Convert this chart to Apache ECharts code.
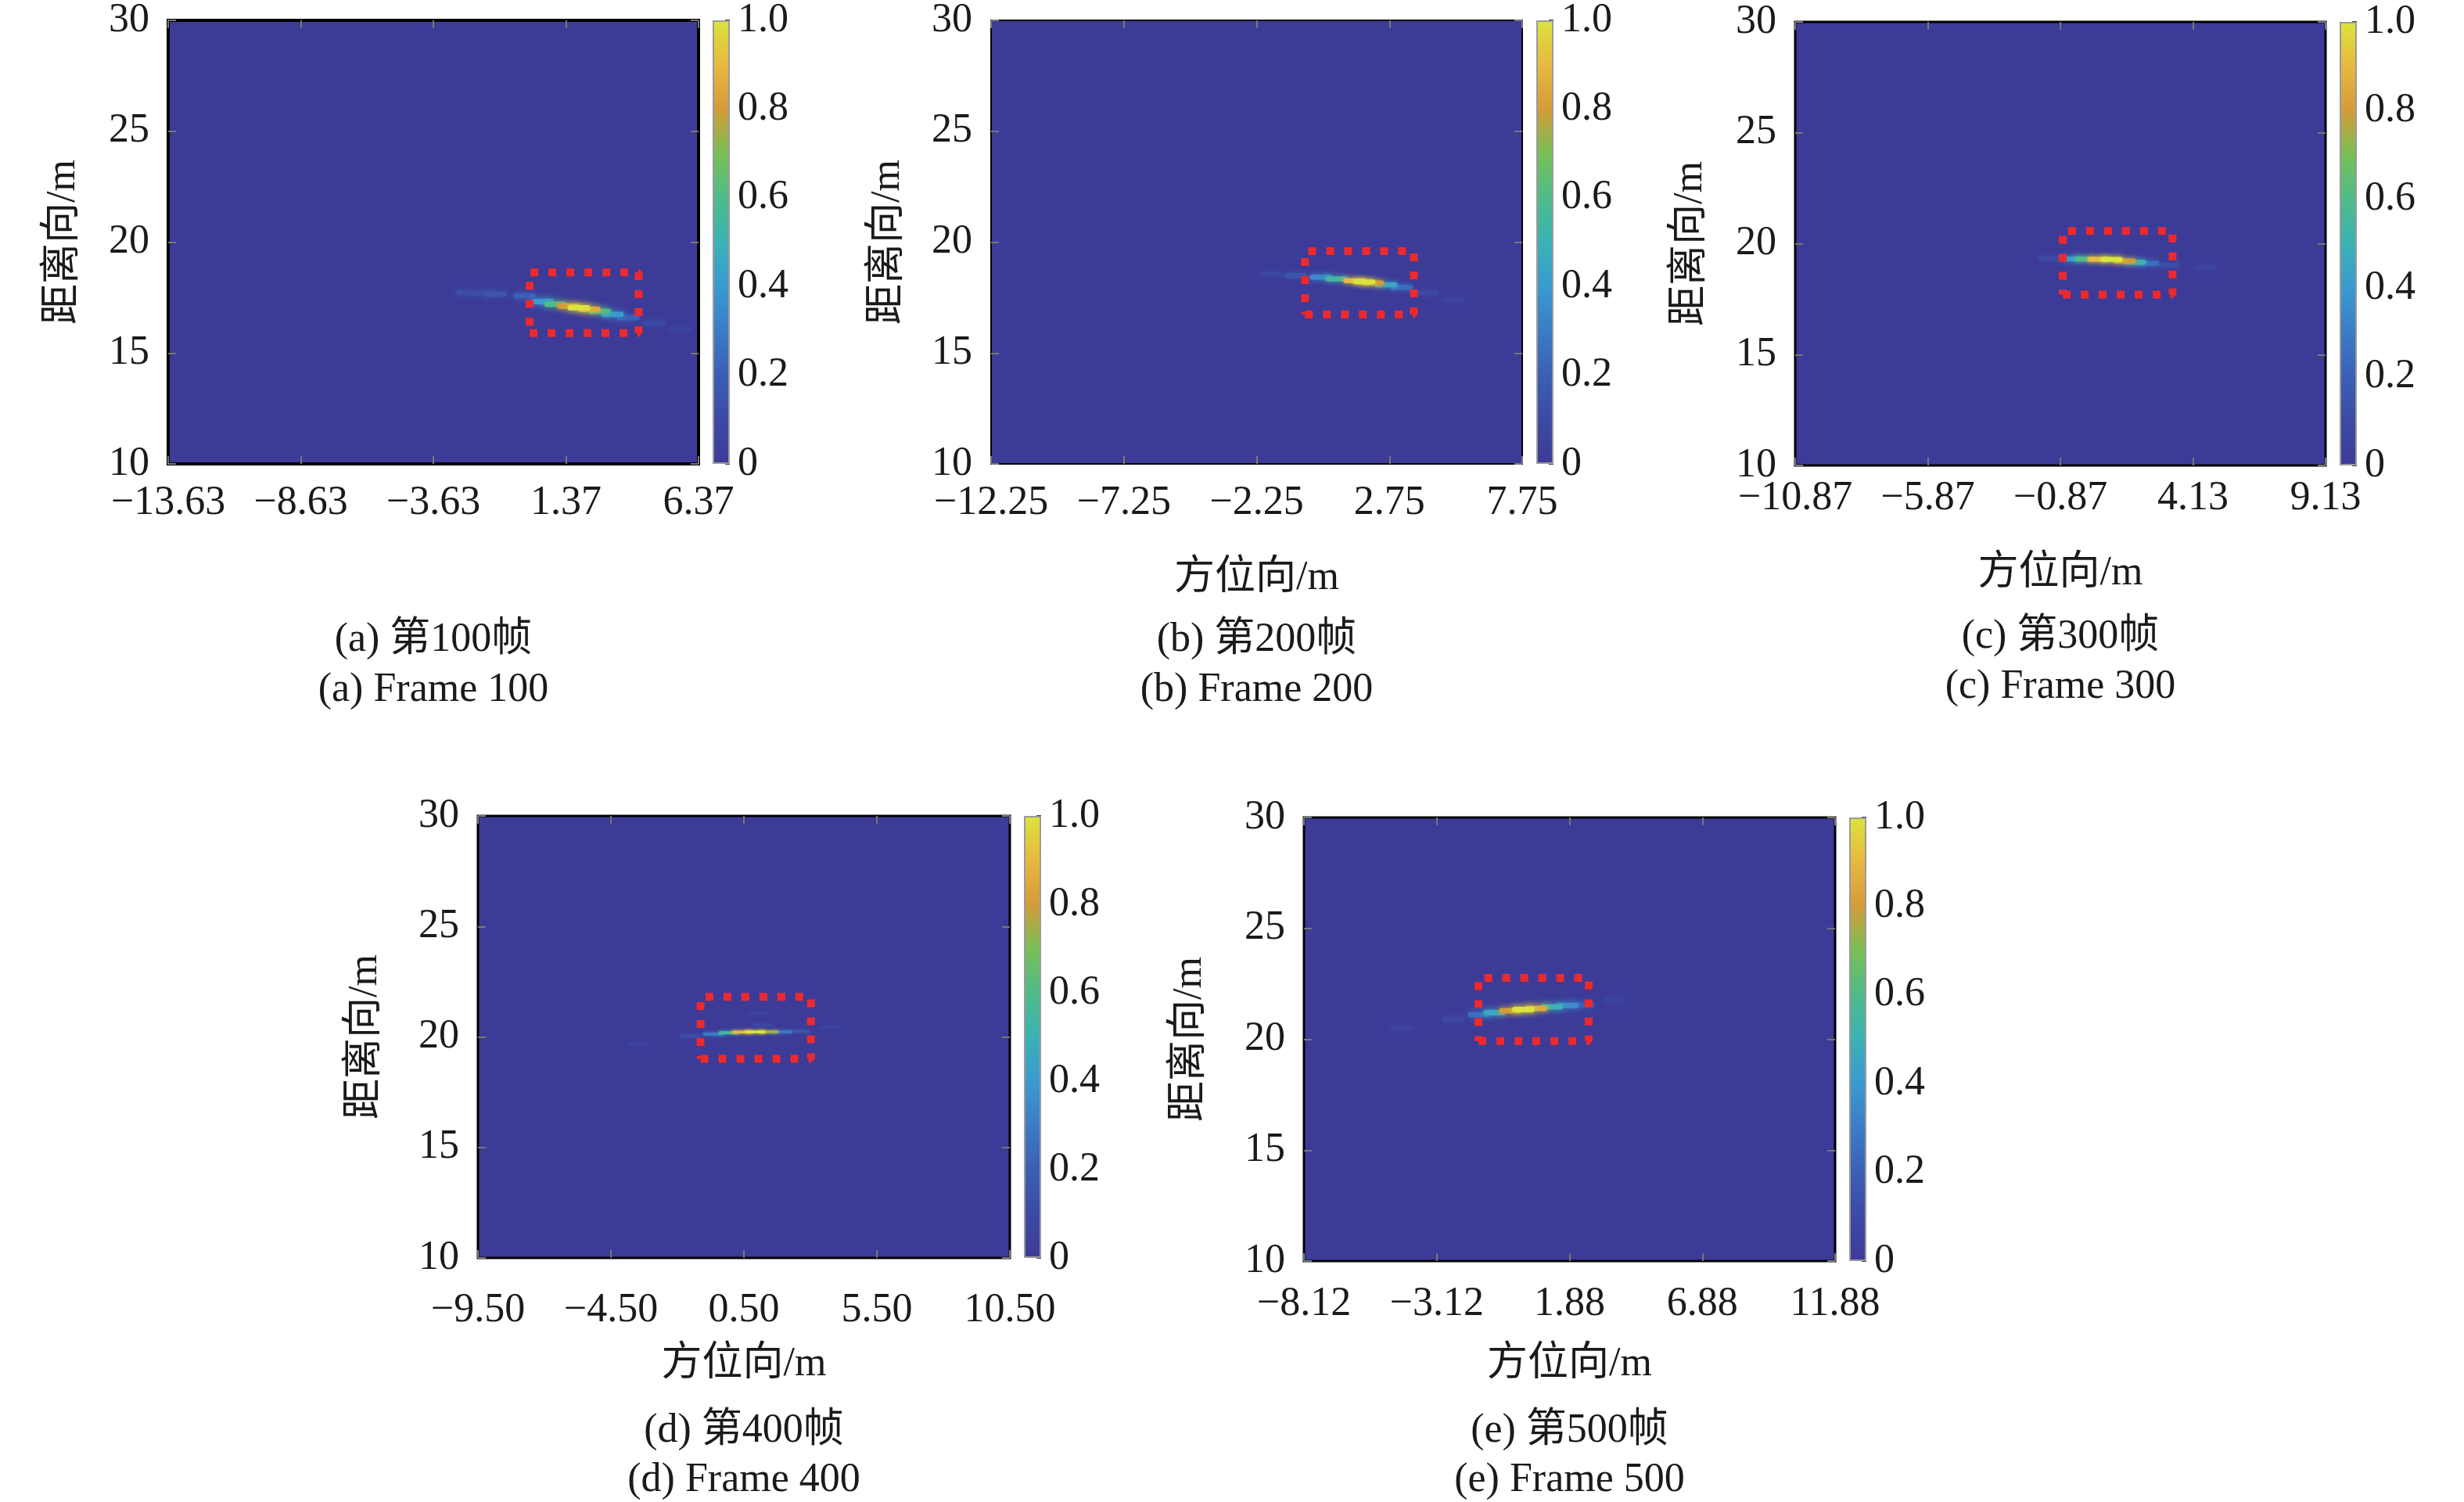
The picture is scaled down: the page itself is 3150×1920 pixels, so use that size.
<!DOCTYPE html>
<html>
<head>
<meta charset="utf-8">
<title>帧序列成像</title>
<script src="https://cdn.jsdelivr.net/npm/echarts@6/dist/echarts.min.js"></script>
<style>
  html, body { margin: 0; padding: 0; background: #fff; }
  #main { width: 3150px; height: 1920px; }
</style>
</head>
<body>
<div id="main"></div>
<script>
// 数据：各帧的方位向刻度、目标条带（[方位向, 距离向, 归一化幅度]）和红色虚线框
var frameNo = ["100", "200", "300", "400", "500"];
var panelTag = ["a", "b", "c", "d", "e"];
var yTicks = [10, 15, 20, 25, 30];
var cbTicks = [0, 0.2, 0.4, 0.6, 0.8, 1.0];

var xTicksA = [-13.63, -8.63, -3.63, 1.37, 6.37];
var xTicksB = [-12.25, -7.25, -2.25, 2.75, 7.75];
var xTicksC = [-10.87, -5.87, -0.87, 4.13, 9.13];
var xTicksD = [-9.50, -4.50, 0.50, 5.50, 10.50];
var xTicksE = [-8.12, -3.12, 1.88, 6.88, 11.88];

var streakA = [
  [-2.35, 17.72, 0.12], [-1.80, 17.69, 0.12], [-1.27, 17.66, 0.15], [-0.20, 17.58, 0.20],
  [0.49, 17.32, 0.40], [0.98, 17.20, 0.60], [1.47, 17.11, 0.80],
  [1.86, 17.04, 1.00], [2.25, 16.97, 0.85], [2.64, 16.88, 0.60],
  [3.13, 16.74, 0.40], [3.72, 16.59, 0.20], [4.70, 16.35, 0.10],
  [5.67, 16.06, 0.06]
];
var streakB = [
  [-1.69, 18.57, 0.08], [-0.80, 18.50, 0.15], [0.17, 18.42, 0.35],
  [0.76, 18.34, 0.55], [1.44, 18.26, 0.90], [1.80, 18.21, 1.00], [2.12, 18.16, 0.80],
  [2.62, 18.07, 0.45], [3.20, 17.97, 0.25], [4.18, 17.70, 0.10],
  [5.16, 17.40, 0.05]
];
var streakC = [
  [-1.29, 19.34, 0.10], [-0.41, 19.32, 0.40], [0.08, 19.31, 0.60],
  [0.57, 19.30, 0.90], [1.06, 19.29, 1.00], [1.55, 19.22, 0.80],
  [1.94, 19.17, 0.50], [2.43, 19.11, 0.25], [3.22, 19.03, 0.12],
  [4.59, 18.94, 0.06]
];
var streakD = [
  [-3.47, 19.66, 0.05], [-1.51, 20.04, 0.12], [-0.64, 20.13, 0.30],
  [-0.05, 20.19, 0.55], [0.44, 20.22, 0.90], [0.92, 20.23, 1.00],
  [1.41, 20.23, 0.75], [1.90, 20.23, 0.30], [2.58, 20.25, 0.15],
  [3.76, 20.45, 0.07], [1.20, 20.54, 0.08], [1.00, 21.07, 0.05]
];
var streakE = [
  [-4.45, 20.53, 0.05], [-2.50, 20.90, 0.10], [-1.52, 21.11, 0.25],
  [-0.94, 21.20, 0.45], [-0.35, 21.29, 0.80], [0.14, 21.34, 1.00],
  [0.63, 21.39, 0.85], [1.21, 21.46, 0.50], [1.80, 21.52, 0.35],
  [2.39, 21.55, 0.20], [3.56, 21.79, 0.06]
];

// 虚线框 [x0, y0, x1, y1]
var boxA = [0.00, 15.90, 4.11, 18.63];
var boxB = [-0.43, 16.74, 3.67, 19.59];
var boxC = [-0.78, 17.71, 3.36, 20.57];
var boxD = [-1.13, 19.01, 3.02, 21.81];
var boxE = [-1.55, 19.92, 2.60, 22.77];

var xTicksAll = [xTicksA, xTicksB, xTicksC, xTicksD, xTicksE];
var streakAll = [streakA, streakB, streakC, streakD, streakE];
var boxAll = [boxA, boxB, boxC, boxD, boxE];

// 样式与布局
var parula = ['#3d3b98', '#3c4aa4', '#3b5fb5', '#3b7cc6', '#3a9ad0', '#3bb2b4',
              '#4fbb8a', '#78bf55', '#d39c3a', '#e8b840', '#dae43c'];
var bgColor = '#3d3b98';
var FONT = "'Liberation Serif', 'Times New Roman', 'Noto Sans CJK SC', serif";
var FS = 52;
var txtColor = '#1a1a1a';
var S = 0.995;   // 版面整体比例

var layout = [
  { l: 216,  t: 26,   w: 681, h: 570, xm: 24, titleY: null, cap1: 822,  cap2: 886,  yTitleX: 81,   bw: 4, blob: [0.85, 0.24] },
  { l: 1273, t: 26,   w: 682, h: 570, xm: 24, titleY: 743,  cap1: 822,  cap2: 886,  yTitleX: 1141, bw: 2, blob: [0.85, 0.22] },
  { l: 2307, t: 28,   w: 681, h: 570, xm: 16, titleY: 737,  cap1: 818,  cap2: 882,  yTitleX: 2172, bw: 3, blob: [0.85, 0.22] },
  { l: 614,  t: 1048, w: 683, h: 568, xm: 41, titleY: 1753, cap1: 1838, cap2: 1902, yTitleX: 469,  bw: 3, blob: [0.8, 0.13] },
  { l: 1675, t: 1050, w: 682, h: 570, xm: 29, titleY: 1753, cap1: 1838, cap2: 1902, yTitleX: 1529, bw: 3, blob: [0.85, 0.24] }
];

function px(v) { return Math.round(v * S); }

function fmtX(v) {
  return (v < 0 ? '\u2212' : '') + Math.abs(v).toFixed(2);
}

function blobRenderer(size) {
  return function (params, api) {
    var p = api.coord([api.value(0), api.value(1)]);
    var s = api.size(size);
    var c = api.visual('color');
    return {
      type: 'rect',
      shape: { x: p[0] - s[0] / 2, y: p[1] - s[1] / 2, width: s[0], height: s[1], r: s[1] / 2 },
      style: { fill: c, shadowBlur: s[1] * 1.2, shadowColor: c }
    };
  };
}

(function () {
  var myChart = echarts.init(document.getElementById('main'), null, { renderer: 'canvas' });

  var grids = [], xAxes = [], yAxes = [], series = [], graphics = [], streakIdx = [];
  var cbStops = parula.map(function (c, i) { return { offset: i / (parula.length - 1), color: c }; });
  var tickStyle = { color: '#777', width: 2 };

  layout.forEach(function (L, i) {
    var ticks = xTicksAll[i];
    var gi = grids.length;      // 主图网格
    var cb = gi + 1;            // 色条网格
    var l = px(L.l), t = px(L.t), w = px(L.w), h = px(L.h);

    // 主图
    grids.push({
      left: l, top: t, width: w, height: h,
      show: true, backgroundColor: bgColor, borderColor: '#000', borderWidth: L.bw
    });
    // 色条
    grids.push({ left: l + w + 18, top: t, width: 22, height: h });

    var xi = xAxes.length, yi = yAxes.length;
    xAxes.push({
      type: 'value', gridIndex: gi, position: 'bottom',
      min: ticks[0], max: ticks[ticks.length - 1],
      axisLine: { show: false, onZero: false },
      axisTick: { show: true, inside: true, length: 10, customValues: ticks, lineStyle: tickStyle },
      axisLabel: {
        customValues: ticks, formatter: fmtX, margin: L.xm,
        color: txtColor, fontFamily: FONT, fontSize: FS
      },
      splitLine: { show: false }
    });
    // 上边框刻度
    xAxes.push({
      type: 'value', gridIndex: gi, position: 'top',
      min: ticks[0], max: ticks[ticks.length - 1],
      axisLine: { show: false, onZero: false },
      axisTick: { show: true, inside: true, length: 10, customValues: ticks, lineStyle: tickStyle },
      axisLabel: { show: false },
      splitLine: { show: false }
    });
    yAxes.push({
      type: 'value', gridIndex: gi, position: 'left',
      min: yTicks[0], max: yTicks[yTicks.length - 1], interval: 5,
      axisLine: { show: false, onZero: false },
      axisTick: { show: true, inside: true, length: 10, lineStyle: tickStyle },
      axisLabel: { margin: 24, color: txtColor, fontFamily: FONT, fontSize: FS },
      splitLine: { show: false }
    });
    // 右边框刻度
    yAxes.push({
      type: 'value', gridIndex: gi, position: 'right',
      min: yTicks[0], max: yTicks[yTicks.length - 1], interval: 5,
      axisLine: { show: false, onZero: false },
      axisTick: { show: true, inside: true, length: 10, lineStyle: tickStyle },
      axisLabel: { show: false },
      splitLine: { show: false }
    });

    var cbx = xAxes.length, cby = yAxes.length;
    xAxes.push({ type: 'category', gridIndex: cb, data: ['cb'], show: false });
    yAxes.push({
      type: 'value', gridIndex: cb, position: 'right',
      min: cbTicks[0], max: cbTicks[cbTicks.length - 1], interval: 0.2,
      axisLine: { show: false },
      axisTick: { show: true, inside: true, length: 6, lineStyle: { color: '#444', width: 2 } },
      axisLabel: {
        margin: 10, color: txtColor, fontFamily: FONT, fontSize: FS,
        formatter: function (v) { return v === 0 ? '0' : v.toFixed(1); }
      },
      splitLine: { show: false }
    });

    // 目标条带
    var pts = streakAll[i].slice().sort(function (a, b) { return a[2] - b[2]; });
    streakIdx.push(series.length);
    series.push({
      type: 'custom', xAxisIndex: xi, yAxisIndex: yi,
      dimensions: ['x', 'y', 'v'], encode: { x: 0, y: 1 },
      renderItem: blobRenderer(L.blob),
      data: pts, silent: true, z: 2
    });

    // 红色虚线框
    var b = boxAll[i];
    series.push({
      type: 'line', xAxisIndex: xi, yAxisIndex: yi,
      data: [[b[0], b[1]], [b[2], b[1]], [b[2], b[3]], [b[0], b[3]], [b[0], b[1]]],
      symbol: 'none', silent: true, z: 5,
      lineStyle: { color: '#ec2a2e', width: 10, type: [10, 13], cap: 'butt' }
    });

    // 色条填充
    series.push({
      type: 'bar', xAxisIndex: cbx, yAxisIndex: cby,
      data: [1], barWidth: '100%', silent: true,
      itemStyle: {
        color: new echarts.graphic.LinearGradient(0, 1, 0, 0, cbStops),
        borderColor: '#9a9a9a', borderWidth: 2
      }
    });

    // 坐标轴标题与图注
    var cx = l + w / 2;
    graphics.push({
      type: 'text', x: px(L.yTitleX), y: t + h / 2, rotation: Math.PI / 2,
      style: { text: '距离向/m', fill: txtColor, font: FS + 'px ' + FONT, align: 'center', verticalAlign: 'middle' }
    });
    if (L.titleY !== null) {
      graphics.push({
        type: 'text', x: cx, y: px(L.titleY),
        style: { text: '方位向/m', fill: txtColor, font: FS + 'px ' + FONT, align: 'center', verticalAlign: 'middle' }
      });
    }
    graphics.push({
      type: 'text', x: cx, y: px(L.cap1),
      style: { text: '(' + panelTag[i] + ') 第' + frameNo[i] + '帧', fill: txtColor, font: FS + 'px ' + FONT, align: 'center', verticalAlign: 'middle' }
    });
    graphics.push({
      type: 'text', x: cx, y: px(L.cap2),
      style: { text: '(' + panelTag[i] + ') Frame ' + frameNo[i], fill: txtColor, font: FS + 'px ' + FONT, align: 'center', verticalAlign: 'middle' }
    });
  });

  var option = {
    animation: false,
    backgroundColor: '#fff',
    grid: grids,
    xAxis: xAxes,
    yAxis: yAxes,
    visualMap: {
      type: 'continuous', show: false, min: 0, max: 1, dimension: 2,
      seriesIndex: streakIdx,
      inRange: { color: parula }
    },
    graphic: graphics,
    series: series
  };

  myChart.setOption(option);
  window.addEventListener('resize', function () {
    myChart.resize();
  });
})();
</script>
</body>
</html>
